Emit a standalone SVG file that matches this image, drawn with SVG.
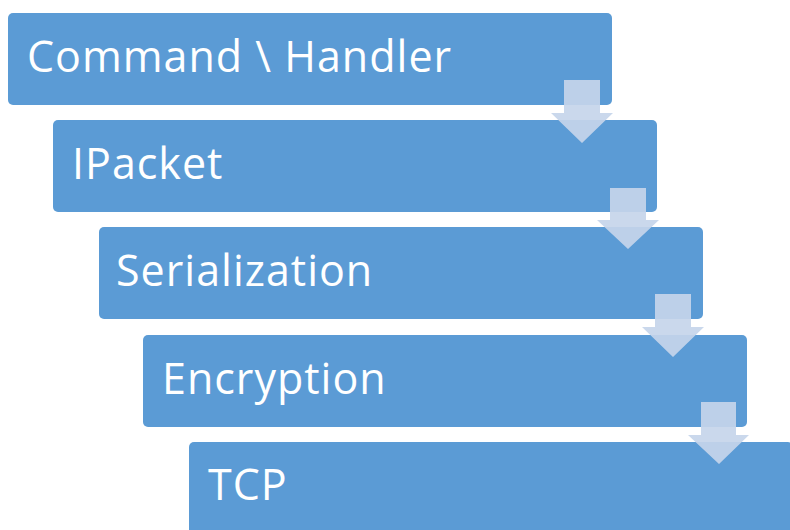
<svg xmlns="http://www.w3.org/2000/svg" width="790" height="530" viewBox="0 0 790 530">
<style>
.box{fill:#5B9BD5;}
.lbl{fill:#FFFFFF;font-family:"Open Sans","Liberation Sans",sans-serif;font-size:43px;letter-spacing:1px;font-variant-ligatures:none;}
.arr{fill:#C5D5EA;fill-opacity:0.92;}
</style>
<rect width="790" height="530" fill="#FFFFFF"/>
<g id="node-command-handler">
<rect class="box" x="8" y="13" width="604" height="92" rx="5"/>
<text class="lbl" x="27" y="72">Command \ Handler</text>
</g>
<g id="node-ipacket">
<rect class="box" x="53" y="120" width="604" height="92" rx="5"/>
<text class="lbl" x="72" y="179">IPacket</text>
</g>
<g id="node-serialization">
<rect class="box" x="99" y="227" width="604" height="92" rx="5"/>
<text class="lbl" x="116" y="286">Serialization</text>
</g>
<g id="node-encryption">
<rect class="box" x="143" y="335" width="604" height="92" rx="5"/>
<text class="lbl" x="162" y="394">Encryption</text>
</g>
<g id="node-tcp">
<rect class="box" x="189" y="442" width="604" height="92" rx="5"/>
<text class="lbl" x="208" y="500">TCP</text>
</g>
<g id="connectors">
<path class="arr" d="M564 80 H600 V113 H613 L582 143 L551 113 H564 Z"/>
<path class="arr" d="M610 188 H646 V220 H659 L628 249 L597 220 H610 Z"/>
<path class="arr" d="M655 294 H691 V327 H704 L673 357 L642 327 H655 Z"/>
<path class="arr" d="M701 402 H736 V435 H749 L719 464 L688 435 H701 Z"/>
</g>
</svg>
